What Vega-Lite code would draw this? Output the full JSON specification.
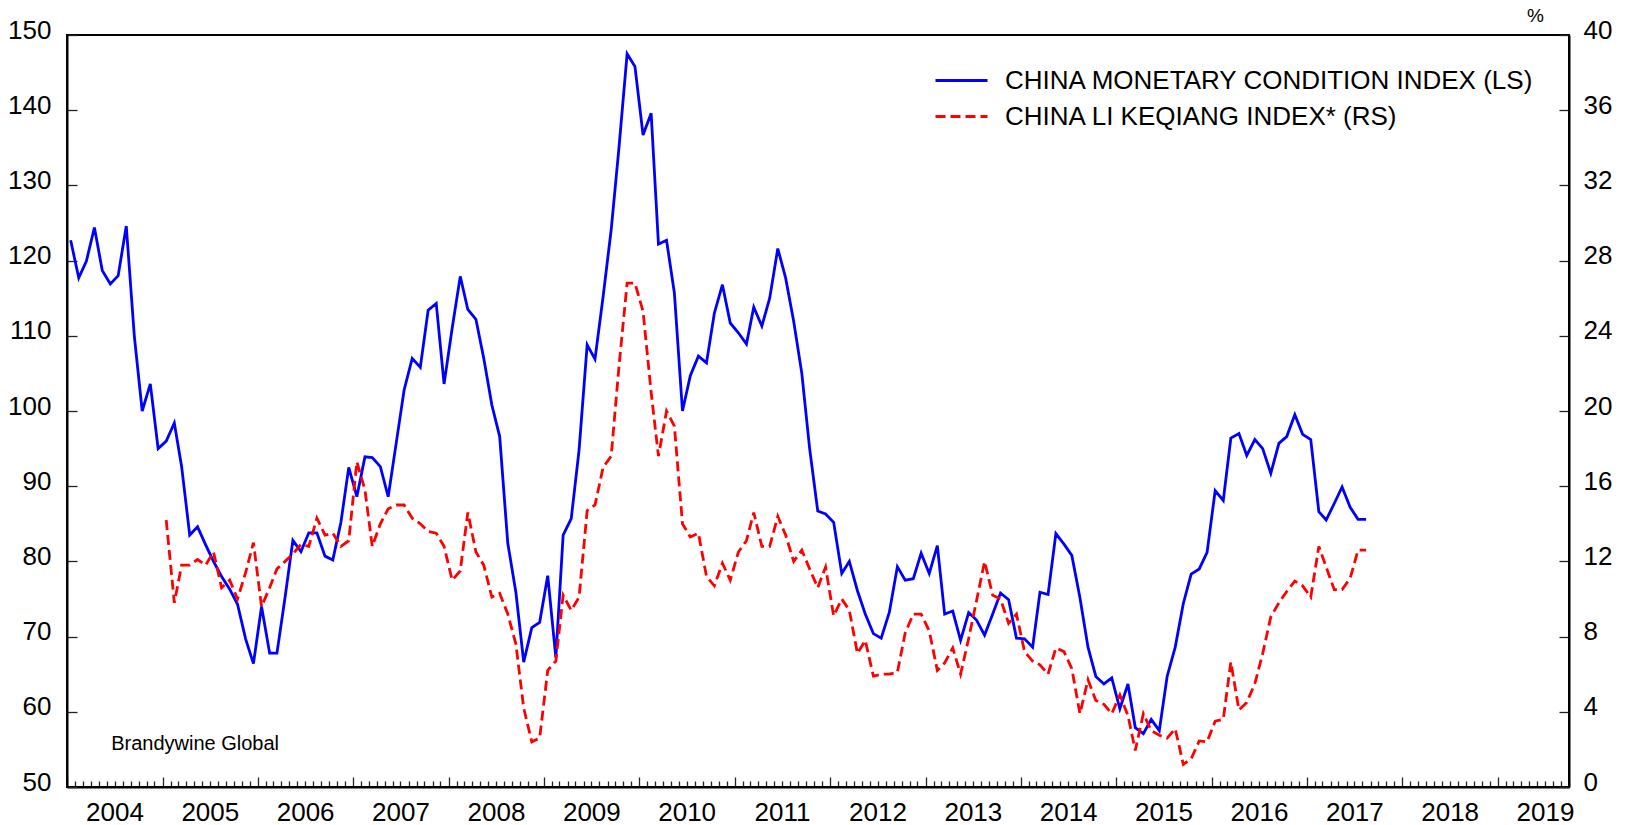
{
  "$schema": "https://vega.github.io/schema/vega-lite/v6.json",
  "autosize": {"type": "none"},
  "padding": {"left": 67, "top": 35, "right": 58, "bottom": 38},
  "width": 1502,
  "height": 752,
  "background": "white",
  "config": {
    "font": "Liberation Sans",
    "view": {"stroke": "black", "strokeWidth": 2},
    "axis": {"labelFont": "Liberation Sans", "labelFontSize": 26, "labelColor": "black", "domainColor": "black", "domainWidth": 2, "tickColor": "#222222", "tickWidth": 1.3, "grid": false, "title": null},
    "legend": {"orient": "none", "title": null, "symbolType": "stroke", "symbolSize": 2704, "symbolStrokeWidth": 3, "labelFontSize": 26, "labelFont": "Liberation Sans", "labelColor": "black", "labelOffset": 16, "labelLimit": 900, "padding": 0}
  },
  "data": {"values": [
    {"d":"2004-01-15","mci":122.7},{"d":"2004-02-15","mci":117.7},{"d":"2004-03-15","mci":119.9},{"d":"2004-04-15","mci":124.4},
    {"d":"2004-05-15","mci":118.7},{"d":"2004-06-15","mci":116.9},{"d":"2004-07-15","mci":118.0},{"d":"2004-08-15","mci":124.6},
    {"d":"2004-09-15","mci":109.9},{"d":"2004-10-15","mci":100.0},{"d":"2004-11-15","mci":103.6},{"d":"2004-12-15","mci":95.0},
    {"d":"2005-01-15","mci":96.0,"lk":14.2},{"d":"2005-02-15","mci":98.4,"lk":9.8},{"d":"2005-03-15","mci":92.6,"lk":11.8},{"d":"2005-04-15","mci":83.5,"lk":11.8},
    {"d":"2005-05-15","mci":84.6,"lk":12.1},{"d":"2005-06-15","mci":82.2,"lk":11.8},{"d":"2005-07-15","mci":80.0,"lk":12.5},{"d":"2005-08-15","mci":78.0,"lk":10.6},
    {"d":"2005-09-15","mci":76.3,"lk":11.0},{"d":"2005-10-15","mci":74.3,"lk":10.0},{"d":"2005-11-15","mci":69.7,"lk":11.4},{"d":"2005-12-15","mci":66.4,"lk":13.0},
    {"d":"2006-01-15","mci":74.0,"lk":9.6},{"d":"2006-02-15","mci":67.8,"lk":10.6},{"d":"2006-03-15","mci":67.8,"lk":11.6},{"d":"2006-04-15","mci":75.2,"lk":12.0},
    {"d":"2006-05-15","mci":82.8,"lk":12.4},{"d":"2006-06-15","mci":81.3,"lk":12.9},{"d":"2006-07-15","mci":83.8,"lk":12.8},{"d":"2006-08-15","mci":83.8,"lk":14.3},
    {"d":"2006-09-15","mci":80.7,"lk":13.4},{"d":"2006-10-15","mci":80.2,"lk":13.5},{"d":"2006-11-15","mci":85.2,"lk":12.8},{"d":"2006-12-15","mci":92.5,"lk":13.1},
    {"d":"2007-01-15","mci":88.6,"lk":17.3},{"d":"2007-02-15","mci":93.9,"lk":15.8},{"d":"2007-03-15","mci":93.8,"lk":12.8},{"d":"2007-04-15","mci":92.6,"lk":14.0},
    {"d":"2007-05-15","mci":88.6,"lk":14.8},{"d":"2007-06-15","mci":95.8,"lk":15.0},{"d":"2007-07-15","mci":102.8,"lk":15.0},{"d":"2007-08-15","mci":107.0,"lk":14.3},
    {"d":"2007-09-15","mci":105.8,"lk":14.0},{"d":"2007-10-15","mci":113.4,"lk":13.6},{"d":"2007-11-15","mci":114.3,"lk":13.5},{"d":"2007-12-15","mci":103.6,"lk":12.8},
    {"d":"2008-01-15","mci":111.0,"lk":11.0},{"d":"2008-02-15","mci":117.9,"lk":11.5},{"d":"2008-03-15","mci":113.5,"lk":14.6},{"d":"2008-04-15","mci":112.2,"lk":12.5},
    {"d":"2008-05-15","mci":107.0,"lk":11.8},{"d":"2008-06-15","mci":100.8,"lk":10.1},{"d":"2008-07-15","mci":96.6,"lk":10.3},{"d":"2008-08-15","mci":82.4,"lk":9.2},
    {"d":"2008-09-15","mci":75.9,"lk":7.6},{"d":"2008-10-15","mci":66.6,"lk":4.2},{"d":"2008-11-15","mci":71.2,"lk":2.4},{"d":"2008-12-15","mci":71.9,"lk":2.6},
    {"d":"2009-01-15","mci":78.1,"lk":6.2},{"d":"2009-02-15","mci":67.2,"lk":6.7},{"d":"2009-03-15","mci":83.5,"lk":10.2},{"d":"2009-04-15","mci":85.7,"lk":9.4},
    {"d":"2009-05-15","mci":94.8,"lk":10.1},{"d":"2009-06-15","mci":108.8,"lk":14.7},{"d":"2009-07-15","mci":106.9,"lk":15.0},{"d":"2009-08-15","mci":115.2,"lk":17.0},
    {"d":"2009-09-15","mci":124.1,"lk":17.6},{"d":"2009-10-15","mci":135.1,"lk":22.4},{"d":"2009-11-15","mci":147.5,"lk":26.8},{"d":"2009-12-15","mci":145.8,"lk":26.8},
    {"d":"2010-01-15","mci":136.7,"lk":25.3},{"d":"2010-02-15","mci":139.6,"lk":21.0},{"d":"2010-03-15","mci":122.2,"lk":17.6},{"d":"2010-04-15","mci":122.7,"lk":20.0},
    {"d":"2010-05-15","mci":115.7,"lk":19.2},{"d":"2010-06-15","mci":100.0,"lk":14.0},{"d":"2010-07-15","mci":104.7,"lk":13.3},{"d":"2010-08-15","mci":107.3,"lk":13.5},
    {"d":"2010-09-15","mci":106.4,"lk":11.2},{"d":"2010-10-15","mci":113.0,"lk":10.7},{"d":"2010-11-15","mci":116.8,"lk":11.9},{"d":"2010-12-15","mci":111.7,"lk":11.0},
    {"d":"2011-01-15","mci":110.4,"lk":12.5},{"d":"2011-02-15","mci":108.9,"lk":13.1},{"d":"2011-03-15","mci":113.8,"lk":14.6},{"d":"2011-04-15","mci":111.3,"lk":12.8},
    {"d":"2011-05-15","mci":115.0,"lk":12.8},{"d":"2011-06-15","mci":121.6,"lk":14.4},{"d":"2011-07-15","mci":117.7,"lk":13.4},{"d":"2011-08-15","mci":111.9,"lk":12.0},
    {"d":"2011-09-15","mci":105.0,"lk":12.6},{"d":"2011-10-15","mci":95.0,"lk":11.6},{"d":"2011-11-15","mci":86.7,"lk":10.6},{"d":"2011-12-15","mci":86.3,"lk":11.7},
    {"d":"2012-01-15","mci":85.2,"lk":9.1},{"d":"2012-02-15","mci":78.4,"lk":10.0},{"d":"2012-03-15","mci":80.0,"lk":9.4},{"d":"2012-04-15","mci":76.1,"lk":7.1},
    {"d":"2012-05-15","mci":73.0,"lk":7.8},{"d":"2012-06-15","mci":70.4,"lk":5.9},{"d":"2012-07-15","mci":69.8,"lk":6.0},{"d":"2012-08-15","mci":73.2,"lk":6.0},
    {"d":"2012-09-15","mci":79.3,"lk":6.1},{"d":"2012-10-15","mci":77.5,"lk":8.2},{"d":"2012-11-15","mci":77.7,"lk":9.2},{"d":"2012-12-15","mci":81.1,"lk":9.2},
    {"d":"2013-01-15","mci":78.4,"lk":8.3},{"d":"2013-02-15","mci":82.1,"lk":6.2},{"d":"2013-03-15","mci":73.0,"lk":6.6},{"d":"2013-04-15","mci":73.4,"lk":7.4},
    {"d":"2013-05-15","mci":69.5,"lk":6.0},{"d":"2013-06-15","mci":73.2,"lk":7.9},{"d":"2013-07-15","mci":72.2,"lk":9.9},{"d":"2013-08-15","mci":70.2,"lk":12.0},
    {"d":"2013-09-15","mci":73.0,"lk":10.2},{"d":"2013-10-15","mci":75.8,"lk":10.0},{"d":"2013-11-15","mci":74.9,"lk":8.7},{"d":"2013-12-15","mci":69.8,"lk":9.2},
    {"d":"2014-01-15","mci":69.7,"lk":7.2},{"d":"2014-02-15","mci":68.6,"lk":6.7},{"d":"2014-03-15","mci":75.9,"lk":6.5},{"d":"2014-04-15","mci":75.6,"lk":6.0},
    {"d":"2014-05-15","mci":83.7,"lk":7.4},{"d":"2014-06-15","mci":82.3,"lk":7.2},{"d":"2014-07-15","mci":80.8,"lk":6.3},{"d":"2014-08-15","mci":75.2,"lk":3.9},
    {"d":"2014-09-15","mci":68.6,"lk":5.7},{"d":"2014-10-15","mci":64.7,"lk":4.6},{"d":"2014-11-15","mci":63.7,"lk":4.4},{"d":"2014-12-15","mci":64.5,"lk":3.9},
    {"d":"2015-01-15","mci":60.4,"lk":4.9},{"d":"2015-02-15","mci":63.7,"lk":3.8},{"d":"2015-03-15","mci":57.9,"lk":1.95},{"d":"2015-04-15","mci":57.1,"lk":3.9},
    {"d":"2015-05-15","mci":59.0,"lk":3.0},{"d":"2015-06-15","mci":57.5,"lk":2.75},{"d":"2015-07-15","mci":64.7,"lk":2.6},{"d":"2015-08-15","mci":68.6,"lk":3.1},
    {"d":"2015-09-15","mci":74.4,"lk":1.2},{"d":"2015-10-15","mci":78.3,"lk":1.5},{"d":"2015-11-15","mci":79.0,"lk":2.45},{"d":"2015-12-15","mci":81.2,"lk":2.4},
    {"d":"2016-01-15","mci":89.4,"lk":3.5},{"d":"2016-02-15","mci":88.1,"lk":3.6},{"d":"2016-03-15","mci":96.4,"lk":6.65},{"d":"2016-04-15","mci":97.0,"lk":4.1},
    {"d":"2016-05-15","mci":94.1,"lk":4.5},{"d":"2016-06-15","mci":96.2,"lk":5.5},{"d":"2016-07-15","mci":95.0,"lk":7.1},{"d":"2016-08-15","mci":91.7,"lk":9.05},
    {"d":"2016-09-15","mci":95.7,"lk":9.8},{"d":"2016-10-15","mci":96.6,"lk":10.4},{"d":"2016-11-15","mci":99.5,"lk":10.95},{"d":"2016-12-15","mci":96.9,"lk":10.7},
    {"d":"2017-01-15","mci":96.2,"lk":10.1},{"d":"2017-02-15","mci":86.6,"lk":12.8},{"d":"2017-03-15","mci":85.5,"lk":11.7},{"d":"2017-04-15","mci":87.7,"lk":10.5},
    {"d":"2017-05-15","mci":89.9,"lk":10.5},{"d":"2017-06-15","mci":87.2,"lk":11.1},{"d":"2017-07-15","mci":85.6,"lk":12.6},{"d":"2017-08-15","mci":85.6,"lk":12.6}
  ]},
  "encoding": {
    "x": {
      "field": "d", "type": "temporal",
      "scale": {"type": "utc", "domain": [{"year": 2004, "month": 1, "date": 1, "utc": true}, {"year": 2019, "month": 10, "date": 1, "utc": true}]},
      "axis": {
        "tickCount": {"interval": "month", "step": 1},
        "tickSize": {"condition": {"test": "utcmonth(datum.value) == 0", "value": -10}, "value": -6},
        "labelExpr": "utcmonth(datum.value) == 6 ? utcFormat(datum.value, '%Y') : ''",
        "labelPadding": 18,
        "labelOverlap": false,
        "labelFlush": false,
        "labelBound": false,
        "labelAlign": "center"
      }
    }
  },
  "layer": [
    {
      "transform": [{"fold": ["mci"], "as": ["key", "value"]}],
      "mark": {"type": "line", "strokeWidth": 2.8},
      "encoding": {
        "y": {"field": "value", "type": "quantitative",
          "scale": {"domain": [50, 150], "nice": false, "zero": false},
          "axis": {"orient": "left", "values": [50, 60, 70, 80, 90, 100, 110, 120, 130, 140, 150], "tickSize": -10, "labelPadding": 26, "labelOffset": -5}},
        "color": {"field": "key", "type": "nominal",
          "scale": {"domain": ["mci"], "range": ["#0000ff"]},
          "legend": {"legendX": 867, "legendY": 18, "labelExpr": "'CHINA MONETARY CONDITION INDEX (LS)'"}}
      }
    },
    {
      "transform": [{"fold": ["lk"], "as": ["key", "value"]}, {"filter": "isValid(datum.value)"}],
      "mark": {"type": "line", "strokeWidth": 2.8},
      "encoding": {
        "y": {"field": "value", "type": "quantitative",
          "scale": {"domain": [0, 40], "nice": false, "zero": false},
          "axis": {"orient": "right", "values": [0, 4, 8, 12, 16, 20, 24, 28, 32, 36, 40], "tickSize": -10, "labelPadding": 24, "labelOffset": -5,
            "title": "%", "titleAngle": 0, "titleX": -34, "titleY": -19.5, "titleAlign": "center", "titleBaseline": "middle", "titleFontSize": 19, "titleFontWeight": "normal", "titleColor": "black", "titleFont": "Liberation Sans"}},
        "color": {"field": "key", "type": "nominal",
          "scale": {"domain": ["lk"], "range": ["#ff0000"]},
          "legend": {"legendX": 867, "legendY": 54, "labelExpr": "'CHINA LI KEQIANG INDEX* (RS)'"}},
        "strokeDash": {"field": "key", "type": "nominal",
          "scale": {"domain": ["lk"], "range": [[10, 5]]},
          "legend": {"legendX": 867, "legendY": 54, "labelExpr": "'CHINA LI KEQIANG INDEX* (RS)'"}}
      }
    },
    {
      "data": {"values": [{"d": "2004-06-18", "v": 54.9, "t": "Brandywine Global"}]},
      "mark": {"type": "text", "align": "left", "baseline": "alphabetic", "fontSize": 20, "font": "Liberation Sans", "color": "black"},
      "encoding": {
        "y": {"field": "v", "type": "quantitative", "scale": {"domain": [50, 150], "nice": false, "zero": false}, "axis": null},
        "text": {"field": "t"}
      }
    }
  ],
  "resolve": {"scale": {"y": "independent", "color": "independent", "strokeDash": "independent"}}
}
